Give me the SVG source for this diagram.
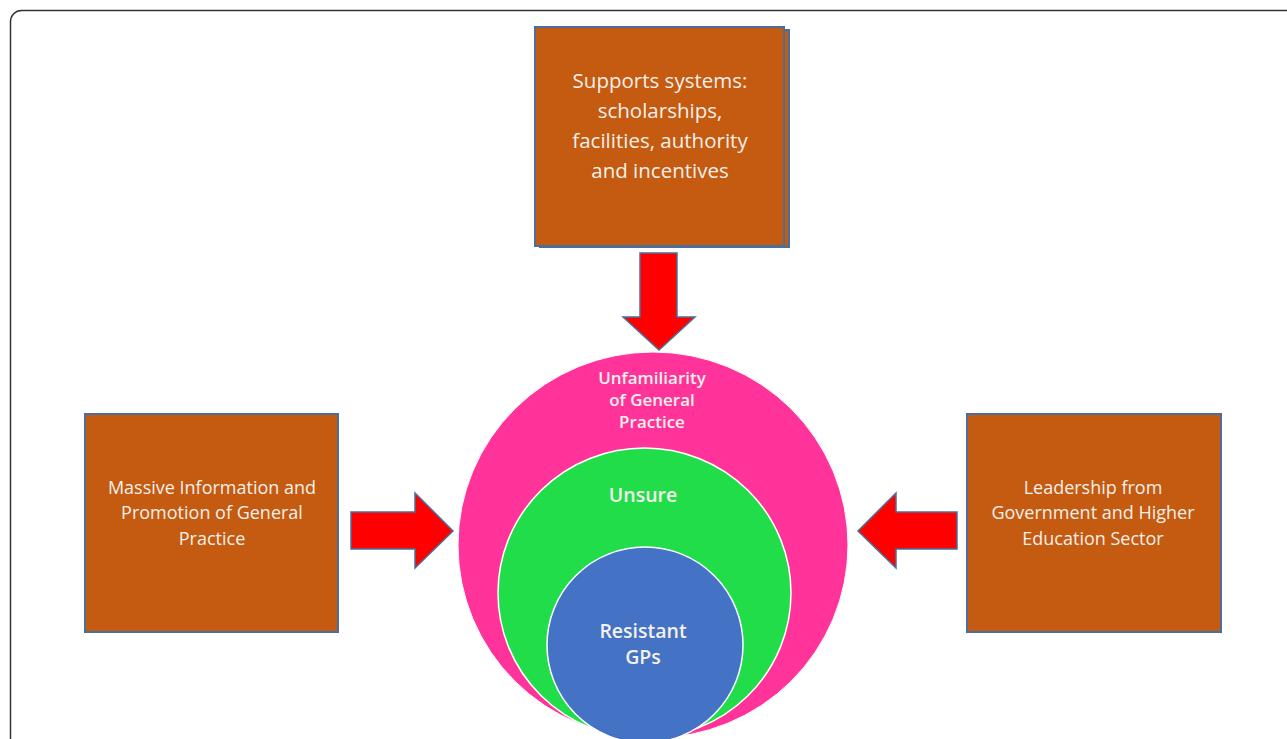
<svg xmlns="http://www.w3.org/2000/svg" width="1287" height="739" viewBox="0 0 1287 739">
<style>
.box{fill:#c55a11;stroke:#4a6f9a;stroke-width:2}
.arrow{fill:#ff0000;stroke:#4a6f9a;stroke-width:1.5}
.t{font-family:"Open Sans","Liberation Sans",sans-serif;fill:#f4f0ea;text-anchor:middle;dominant-baseline:central}
.big{font-size:20.5px}
.mid{font-size:18px}
.circ{font-size:17px;font-weight:600}
.circb{font-size:19.5px;font-weight:600}
</style>
<rect width="1287" height="739" fill="#ffffff"/>
<rect x="10.5" y="10.5" width="1300" height="760" rx="11" fill="none" stroke="#333333" stroke-width="1.5"/>
<g id="node-support">
<rect class="box" x="540" y="30" width="249" height="217"/>
<rect class="box" x="535" y="27" width="249" height="219"/>
<text class="t big" x="660" y="80">Supports systems:</text>
<text class="t big" x="660" y="110">scholarships,</text>
<text class="t big" x="660" y="140">facilities, authority</text>
<text class="t big" x="660" y="170">and incentives</text>
</g>
<g id="node-massive">
<rect class="box" x="85" y="414" width="253" height="218"/>
<text class="t mid" x="212" y="487">Massive Information and</text>
<text class="t mid" x="212" y="512">Promotion of General</text>
<text class="t mid" x="212" y="538">Practice</text>
</g>
<g id="node-leadership">
<rect class="box" x="967" y="414" width="254" height="218"/>
<text class="t mid" x="1093" y="487">Leadership from</text>
<text class="t mid" x="1093" y="512">Government and Higher</text>
<text class="t mid" x="1093" y="538">Education Sector</text>
</g>
<g id="node-circles">
<ellipse cx="653" cy="545" rx="195" ry="193" fill="#ff3399" stroke="#ffffff" stroke-width="1"/>
<ellipse cx="644.5" cy="593" rx="146.5" ry="145" fill="#22dd4a" stroke="#ffffff" stroke-width="1.5"/>
<circle cx="645" cy="645" r="98" fill="#4472c4" stroke="#ffffff" stroke-width="1.5"/>
<text class="t circ" x="652" y="377">Unfamiliarity</text>
<text class="t circ" x="652" y="399">of General</text>
<text class="t circ" x="652" y="421">Practice</text>
<text class="t circb" x="643" y="494">Unsure</text>
<text class="t circb" x="643" y="630">Resistant</text>
<text class="t circb" x="643" y="656">GPs</text>
</g>
<g id="connectors">
<polygon class="arrow" points="640,253 677,253 677,317 695,317 659,350 623,317 640,317"/>
<polygon class="arrow" points="351,512 415,512 415,493 453,531 415,568 415,549 351,549"/>
<polygon class="arrow" points="957,512 896,512 896,493 858,531 896,568 896,549 957,549"/>
</g>
</svg>
